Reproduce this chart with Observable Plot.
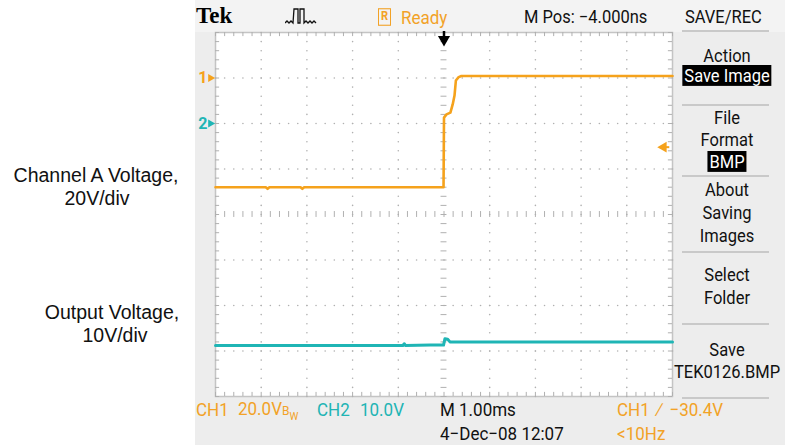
<!DOCTYPE html>
<html>
<head>
<meta charset="utf-8">
<script src="https://cdn.jsdelivr.net/npm/d3@7"></script>
<script src="https://cdn.jsdelivr.net/npm/@observablehq/plot@0.6"></script>
<style>
  html, body { margin: 0; padding: 0; background: #fff; }
  #wrap { position: relative; width: 785px; height: 445px; overflow: hidden; background: #fff; }
  #panel { position: absolute; left: 195px; top: 0; width: 590px; height: 445px; background: #ededed; }
  #topbar { position: absolute; left: 195px; top: 0; width: 590px; height: 32px; background: #f3f3f3; }
  #chart { position: absolute; left: 0; top: 0; }
  .t { position: absolute; white-space: nowrap; font-family: Roboto, "Liberation Sans", sans-serif; font-size: 16px; line-height: 20px; color: #111; transform-origin: 0 50%; transform: scaleY(1.1); }
  .c { transform-origin: 50% 50%; transform: translateX(-50%) scaleY(1.1); text-align: center; }
  .or { color: #f2a227; }
  .tl { color: #21b4b4; }
  .lab { position: absolute; font-family: "Liberation Sans", Arial, sans-serif; font-size: 19.5px; line-height: 22px; color: #111; text-align: center; transform: translateX(-50%); white-space: nowrap; }
  .sep { position: absolute; left: 682px; width: 87px; height: 0; border-top: 2px solid #c9c9c9; }
  .hl { background: #000; color: #fff; padding: 0 2px; }
</style>
</head>
<body>
<div id="wrap">
  <div id="panel"></div>
  <div id="topbar"></div>
  <div id="chart"></div>
</div>
<script>
const timeDomain = [-5, 5];          // ms, 1.00 ms/div, 10 divisions
const divDomain = [-4, 4];           // 8 vertical divisions
const ch1Scale = 20;                 // V/div
const ch2Scale = 10;                 // V/div
const ch1Offset = 3;                 // ground marker "1", divisions
const ch2Offset = 2;                 // ground marker "2", divisions
const triggerLevel = -30.4;          // V on CH1
const triggerTime = 0;               // ms

const ch1Time  = [-5, -3.9, -3.86, -3.82, -3.14, -3.1, -3.06, -0.01, 0, 0.055, 0.14, 0.19, 0.23, 0.26, 0.32, 0.38, 5];
const ch1Volts = [-48, -48, -48.7, -48, -48, -48.7, -48, -48, -17.4, -16.0, -15.2, -11.6, -7.7, -1.1, 0.4, 0.9, 0.9];

const ch2Time  = [-5, -0.9, -0.87, -0.84, -0.3, -0.01, 0.02, 0.08, 0.13, 5];
const ch2Volts = [-48.8, -48.8, -48.4, -48.8, -48.7, -48.7, -47.3, -47.4, -48.0, -48.0];

const ch1 = ch1Time.map((t, i) => ({t, div: ch1Offset + ch1Volts[i] / ch1Scale}));
const ch2 = ch2Time.map((t, i) => ({t, div: ch2Offset + ch2Volts[i] / ch2Scale}));

const orange = "#f5a21c";
const teal = "#1fb5b5";
const gridCol = "#b0b0b0";

// graticule helpers
const minorX = d3.range(timeDomain[0], timeDomain[1] + 1e-9, 0.2).map(v => +v.toFixed(2));
const minorY = d3.range(divDomain[0], divDomain[1] + 1e-9, 0.2).map(v => +v.toFixed(2));
const majorX = d3.range(-4, 5).filter(v => v !== 0);
const majorY = d3.range(-3, 4).filter(v => v !== 0);
const dotsV = majorX.flatMap(x => minorY.map(y => ({x, y})));
const dotsH = majorY.flatMap(y => minorX.map(x => ({x, y})));

const tx = 0.09, ty = 0.09, cx = 0.065, cy = 0.065;
const trigDiv = ch1Offset + triggerLevel / ch1Scale;

const plot = Plot.plot({
  width: 785,
  height: 445,
  marginLeft: 215,
  marginRight: 113,
  marginTop: 32,
  marginBottom: 49,
  x: {domain: timeDomain, axis: null},
  y: {domain: divDomain, axis: null},
  style: {background: "transparent", fontFamily: "Roboto, sans-serif"},
  marks: [
    Plot.frame({fill: "white", stroke: "#c4c4c4", strokeWidth: 1.5}),
    Plot.dot(dotsV, {x: "x", y: "y", r: 0.8, fill: gridCol, stroke: null}),
    Plot.dot(dotsH, {x: "x", y: "y", r: 0.8, fill: gridCol, stroke: null}),
    // center crosshair ticks
    Plot.ruleY(minorY, {y: d => d, x1: -cx, x2: cx, stroke: gridCol}),
    Plot.ruleX(minorX, {x: d => d, y1: -cy, y2: cy, stroke: gridCol}),
    // edge ticks
    Plot.ruleY(minorY, {y: d => d, x1: timeDomain[0], x2: timeDomain[0] + tx, stroke: gridCol}),
    Plot.ruleY(minorY, {y: d => d, x1: timeDomain[1] - tx, x2: timeDomain[1], stroke: gridCol}),
    Plot.ruleX(minorX, {x: d => d, y1: divDomain[1], y2: divDomain[1] - ty, stroke: gridCol}),
    Plot.ruleX(minorX, {x: d => d, y1: divDomain[0], y2: divDomain[0] + ty, stroke: gridCol}),
    // traces
    Plot.line(ch2, {x: "t", y: "div", stroke: teal, strokeWidth: 3, curve: "linear"}),
    Plot.line(ch1, {x: "t", y: "div", stroke: orange, strokeWidth: 2.6, curve: "linear"}),
    // channel ground markers
    Plot.text([{y: ch1Offset, s: "1", c: orange}, {y: ch2Offset, s: "2", c: teal}],
      {x: timeDomain[0], y: "y", text: "s", fill: "c", dx: -8, textAnchor: "end", fontSize: 16, fontWeight: "bold"}),
    Plot.dot([{y: ch1Offset, c: orange}, {y: ch2Offset, c: teal}],
      {x: timeDomain[0], y: "y", fill: "c", stroke: null, symbol: "triangle", rotate: 90, r: 3, dx: -5}),
    // trigger level marker
    Plot.ruleY([trigDiv], {x1: timeDomain[1] - 0.17, x2: timeDomain[1] - 0.06, stroke: orange, strokeWidth: 2}),
    Plot.dot([{y: trigDiv}],
      {x: timeDomain[1], y: "y", fill: orange, stroke: null, symbol: "triangle", rotate: -90, r: 4, dx: -9}),
    // trigger position marker
    Plot.ruleX([triggerTime], {y1: divDomain[1], y2: divDomain[1] - 0.12, stroke: "#000", strokeWidth: 2.5, dy: -1}),
    Plot.dot([triggerTime], {x: d => d, y: divDomain[1], symbol: "triangle", rotate: 180, r: 4.5, fill: "#000", stroke: null, dy: 7})
  ]
});
document.getElementById("chart").appendChild(plot);

// ---- screen chrome text ----
const wrap = document.getElementById("wrap");
function add(html, cls, left, cy, extra) {
  const d = document.createElement("div");
  d.className = cls;
  d.innerHTML = html;
  d.style.left = left + "px";
  d.style.top = (cy - 10) + "px";
  if (extra) Object.assign(d.style, extra);
  wrap.appendChild(d);
  return d;
}
// left-side annotations
const leftLabels = [
  {text: "Channel A Voltage,", x: 96, y: 175},
  {text: "20V/div", x: 97, y: 198},
  {text: "Output Voltage,", x: 112, y: 312},
  {text: "10V/div", x: 115, y: 335}
];
leftLabels.forEach(l => {
  const d = document.createElement("div");
  d.className = "lab";
  d.textContent = l.text;
  d.style.left = l.x + "px";
  d.style.top = (l.y - 11) + "px";
  wrap.appendChild(d);
});

// top bar
add("Tek", "t", 196, 16, {fontFamily: "'Liberation Serif', serif", fontWeight: "bold", fontSize: "23px", color: "#000", transform: "none"});
add('<svg width="36" height="20" viewBox="0 0 36 20"><path d="M0 17 l2-2 2 2 2-2 2 2 L9 3 h4 v14 h2 V3 h4 v14 l2-2 2 2 2-2 2 2 2-2 2 2" fill="none" stroke="#111" stroke-width="1.3"/></svg>', "t", 285, 16, {lineHeight: "0", transform: "none"});
add('<span style="display:inline-block;border:1.5px solid #f2a227;width:11px;height:14px;font-size:11px;line-height:14px;text-align:center;vertical-align:2px;font-weight:bold">R</span>', "t or", 378, 17);
add("Ready", "t or", 401, 17, {fontSize: "17px"});
add("M Pos: \u22124.000ns", "t", 524, 17, {fontSize: "16.5px"});
add("SAVE/REC", "t", 685, 17, {fontSize: "16.5px"});

// right menu
const menuX = 727;
const menu = [
  ["Action", 56], ['<span class="hl">Save Image</span>', 76],
  ["File", 118], ["Format", 140], ['<span class="hl">BMP</span>', 162],
  ["About", 190], ["Saving", 213], ["Images", 236],
  ["Select", 275], ["Folder", 298],
  ["Save", 350], ["TEK0126.BMP", 372]
];
menu.forEach(([h, y]) => add(h, "t c", menuX, y, {fontSize: "16.5px"}));
[30, 104, 175, 251, 323, 397].forEach(y => {
  const s = document.createElement("div");
  s.className = "sep";
  s.style.top = y + "px";
  wrap.appendChild(s);
});

// bottom readouts
add("CH1", "t or", 196, 409, {fontSize: "17px"});
add("20.0V<span style=\"font-size:12px\">B</span><sub style=\"font-size:10px\">W</sub>", "t or", 238, 409, {fontSize: "17px"});
add("CH2", "t tl", 317, 409, {fontSize: "17px"});
add("10.0V", "t tl", 360, 409, {fontSize: "17px"});
add("M 1.00ms", "t", 440, 409, {fontSize: "17px"});
add("CH1 &nbsp;\u2215&nbsp; \u221230.4V", "t or", 617, 409, {fontSize: "17px"});
add("4\u2212Dec\u221208 12:07", "t", 440, 433, {fontSize: "17px"});
add("&lt;10Hz", "t or", 617, 433, {fontSize: "17px"});
</script>
</body>
</html>
